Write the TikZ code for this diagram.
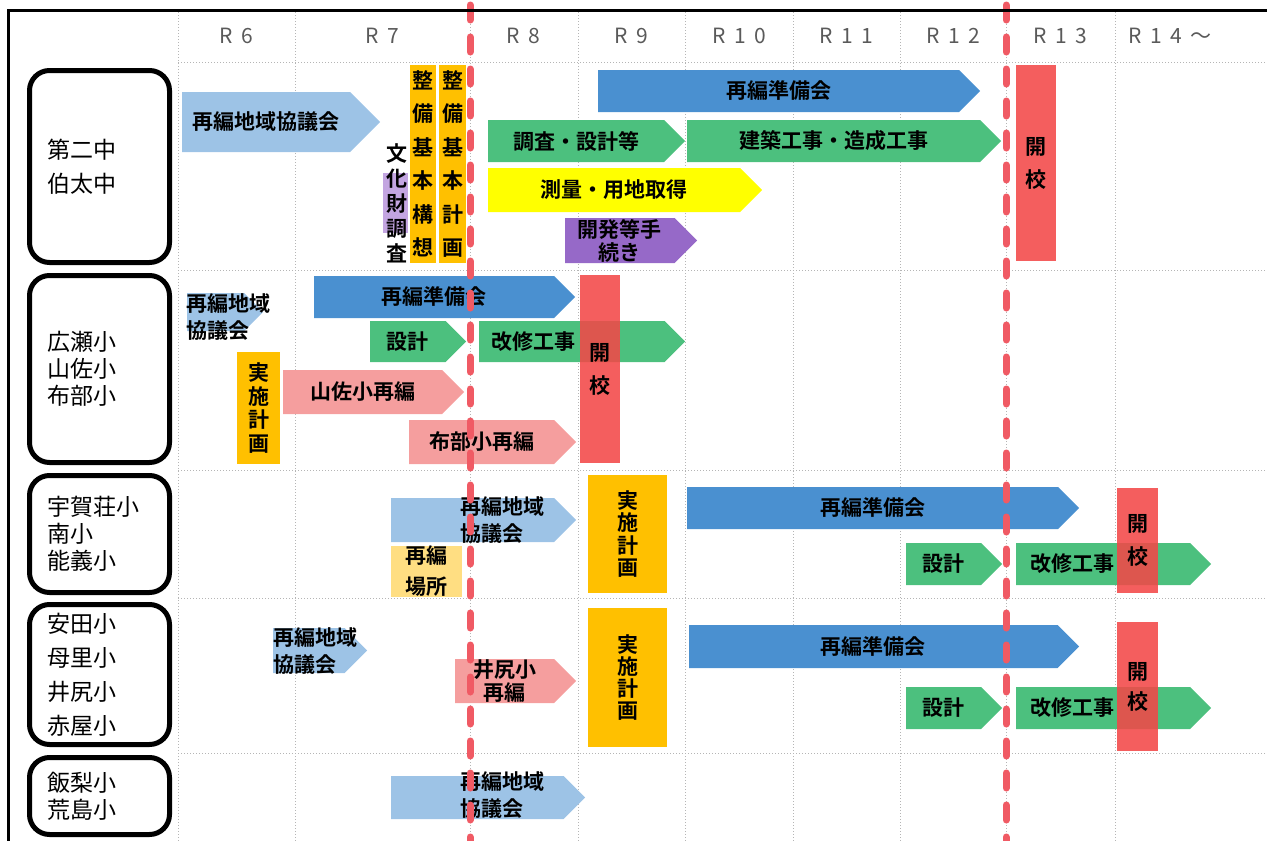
\documentclass[tikz,border=0pt]{standalone}
\usepackage{fontspec}
\setmainfont{Noto Sans CJK JP}[BoldFont={Noto Sans CJK JP Bold}]
\usetikzlibrary{shapes.symbols}

% colours of the schedule
\definecolor{prepblue}{RGB}{74,144,208}
\definecolor{councilblue}{RGB}{157,195,230}
\definecolor{workgreen}{RGB}{76,192,126}
\definecolor{surveyyellow}{RGB}{255,255,0}
\definecolor{procpurple}{RGB}{150,105,200}
\definecolor{culturepurple}{RGB}{195,165,225}
\definecolor{planorange}{RGB}{255,192,0}
\definecolor{openred}{RGB}{242,72,72}
\definecolor{mergepink}{RGB}{245,158,158}
\definecolor{siteyellow}{RGB}{255,222,130}
\definecolor{limitred}{RGB}{240,90,100}
\definecolor{headgray}{RGB}{90,90,90}

\newcommand{\bartxt}{\bfseries\fontsize{21}{27}\selectfont}
\newcommand{\stacktxt}[1]{\bfseries\fontsize{21}{#1}\selectfont}
\newcommand{\schooltxt}{\fontsize{23}{27}\selectfont}
\newcommand{\yeartxt}{\addfontfeature{LetterSpace=40}\fontsize{21}{25}\selectfont}

\tikzset{
  gridline/.style={headgray!45, line width=1pt, dotted},
  schoolbox/.style={draw, line width=5pt, rounded corners=20pt, minimum width=140pt,
    text width=104pt, inner xsep=18pt, inner ysep=2pt, align=left, font=\schooltxt},
  chev/.style={signal, signal to=east, signal from=nowhere, inner sep=0pt,
    anchor=west, font=\bartxt, align=center},
  vbar/.style={rectangle, inner sep=0pt, font=\bartxt, align=center},
  openbar/.style={vbar, fill=openred, fill opacity=0.88, text opacity=1, font={\stacktxt{33}}},
  bartext/.style={inner sep=0pt, font=\bartxt, align=left, anchor=west},
  limitline/.style={limitred, line width=7pt, line cap=round, dash pattern=on 15pt off 17pt},
}

\begin{document}
\begin{tikzpicture}[x=1pt, y=-1pt]
\useasboundingbox (0,0) rectangle (1267,841);

% dotted grid of the years
\foreach \gx in {178,295,470,578,685,793,900,1006,1115}
  \draw[gridline] (\gx,12) -- (\gx,841);
\foreach \gy in {62,270,470,598,753}
  \draw[gridline] (178,\gy) -- (1267,\gy);

% year headers
\foreach \yr/\yx [count=\i] in {R6/236, R7/382, R8/523, R9/631, R10/739, R11/846, R12/953, R13/1060, R14～/1170}
  \node[font=\yeartxt, text=headgray] (year\i) at (\yx,36) {\yr};

% school groups
\node[schoolbox, minimum height=192pt] (grp1) at (99.5,166.5) {第二中\\[7pt]伯太中};
\node[schoolbox, minimum height=187pt] (grp2) at (99.5,369) {広瀬小\\山佐小\\布部小};
\node[schoolbox, minimum height=117pt] (grp3) at (99.5,534) {宇賀荘小\\南小\\能義小};
\node[schoolbox, minimum height=140pt] (grp4) at (99.5,674.5) {安田小\\[7pt]母里小\\[7pt]井尻小\\[7pt]赤屋小};
\node[schoolbox, minimum height=77pt] (grp5) at (99.5,796) {飯梨小\\荒島小};

% row 1: 第二中・伯太中
\node[chev, fill=councilblue, minimum width=198pt, minimum height=60pt] (kyo1) at (182,122) {再編地域協議会};
\node[vbar, fill=culturepurple, minimum width=25pt, minimum height=60pt] (bunka1) at (395.5,203) {};
\node[vbar, font={\stacktxt{25}}] (bunka1t) at (397,203) {文\\化\\財\\調\\査};
\node[vbar, fill=planorange, minimum width=26pt, minimum height=198pt, font={\stacktxt{33.5}}] (koso1) at (423,164) {整\\備\\基\\本\\構\\想};
\node[vbar, fill=planorange, minimum width=27pt, minimum height=198pt, font={\stacktxt{33.5}}] (keikaku1) at (452.5,164) {整\\備\\基\\本\\計\\画};
\node[chev, fill=prepblue, minimum width=382pt, minimum height=42pt] (prep1) at (598,91) {再編準備会};
\node[chev, fill=workgreen, minimum width=197pt, minimum height=42pt] (design1) at (488,141) {調査・設計等};
\node[chev, fill=workgreen, minimum width=314pt, minimum height=42pt] (build1) at (687,141) {建築工事・造成工事};
\node[chev, fill=surveyyellow, minimum width=274pt, minimum height=44pt] (survey1) at (488,190) {測量・用地取得};
\node[chev, fill=procpurple, minimum width=132pt, minimum height=45pt, font={\stacktxt{23}}] (dev1) at (565,240.5) {開発等手\\続き};
\node[openbar, minimum width=40pt, minimum height=196pt] (open1) at (1036,163) {開\\校};

% row 2: 広瀬小・山佐小・布部小
\node[chev, fill=councilblue, minimum width=76pt, minimum height=38pt] (kyo2) at (187,312) {};
\node[bartext] (kyo2t) at (186,317.5) {再編地域\\協議会};
\node[chev, fill=prepblue, minimum width=261pt, minimum height=42pt] (prep2) at (314,297) {再編準備会};
\node[chev, fill=workgreen, minimum width=96pt, minimum height=41pt] (design2) at (370,341.5) {設計};
\node[chev, fill=workgreen, minimum width=206pt, minimum height=41pt] (repair2) at (479,341.5) {};
\node[bartext] (repair2t) at (491,341.5) {改修工事};
\node[vbar, fill=planorange, minimum width=43pt, minimum height=112pt, font={\stacktxt{23.5}}] (plan2) at (258.5,408) {実\\施\\計\\画};
\node[chev, fill=mergepink, minimum width=181pt, minimum height=44pt] (yamasa2) at (283,392) {山佐小再編};
\node[chev, fill=mergepink, minimum width=167pt, minimum height=44pt] (fube2) at (409,442) {布部小再編};
\node[openbar, minimum width=40pt, minimum height=188pt] (open2) at (600,369) {開\\校};

% row 3: 宇賀荘小・南小・能義小
\node[chev, fill=councilblue, minimum width=185pt, minimum height=44pt] (kyo3) at (391,520) {};
\node[bartext] (kyo3t) at (460,520.5) {再編地域\\協議会};
\node[vbar, fill=siteyellow, minimum width=71pt, minimum height=51pt, font={\stacktxt{31}}] (site3) at (426.5,571.5) {再編\\場所};
\node[vbar, fill=planorange, minimum width=79pt, minimum height=118pt, font={\stacktxt{22.5}}] (plan3) at (627.5,534) {実\\施\\計\\画};
\node[chev, fill=prepblue, minimum width=392pt, minimum height=42pt] (prep3) at (687,508) {再編準備会};
\node[chev, fill=workgreen, minimum width=96pt, minimum height=42pt] (design3) at (906,564) {設計};
\node[chev, fill=workgreen, minimum width=195pt, minimum height=42pt] (repair3) at (1016,564) {};
\node[bartext] (repair3t) at (1030,564) {改修工事};
\node[openbar, minimum width=41pt, minimum height=105pt] (open3) at (1137.5,540.5) {開\\校};

% row 4: 安田小・母里小・井尻小・赤屋小
\node[chev, fill=councilblue, minimum width=94pt, minimum height=45pt] (kyo4) at (273,650.5) {};
\node[bartext] (kyo4t) at (273,651) {再編地域\\協議会};
\node[chev, fill=mergepink, minimum width=121pt, minimum height=44pt, font={\stacktxt{23}}] (ijiri4) at (455,681) {井尻小\\再編};
\node[vbar, fill=planorange, minimum width=79pt, minimum height=139pt, font={\stacktxt{22}}] (plan4) at (627.5,677.5) {実\\施\\計\\画};
\node[chev, fill=prepblue, minimum width=390pt, minimum height=43pt] (prep4) at (689,646.5) {再編準備会};
\node[chev, fill=workgreen, minimum width=96pt, minimum height=42pt] (design4) at (906,708) {設計};
\node[chev, fill=workgreen, minimum width=195pt, minimum height=42pt] (repair4) at (1016,708) {};
\node[bartext] (repair4t) at (1030,708) {改修工事};
\node[openbar, minimum width=41pt, minimum height=129pt, font={\stacktxt{30}}] (open4) at (1137.5,686.5) {開\\校};

% row 5: 飯梨小・荒島小
\node[chev, fill=councilblue, minimum width=194pt, minimum height=43pt] (kyo5) at (391,797.5) {};
\node[bartext] (kyo5t) at (460,795.5) {再編地域\\協議会};

% red dashed limits (R7/R8 and R12/R13)
\draw[limitline] (470,5) -- (470,845);
\draw[limitline] (1006,5) -- (1006,845);

% outer frame
\draw[line width=3pt] (8,845) -- (8,10) -- (1270,10);
\end{tikzpicture}
\end{document}
